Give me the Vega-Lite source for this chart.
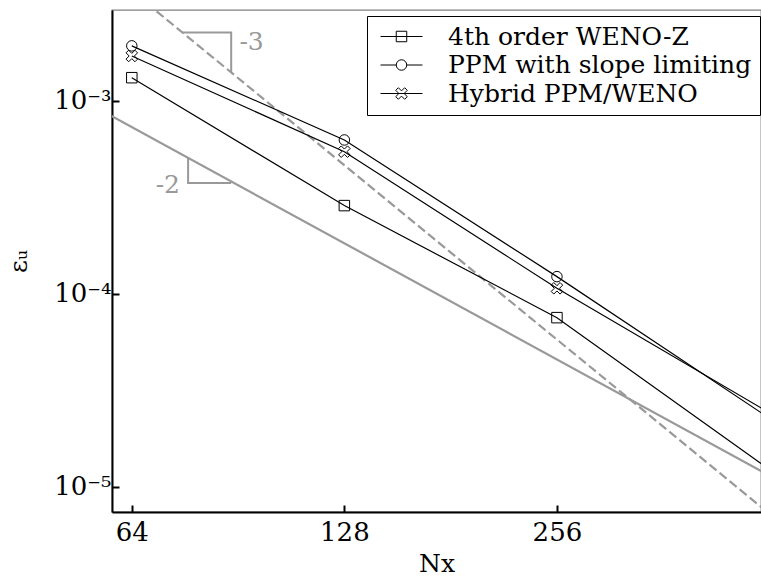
{
  "$schema": "https://vega.github.io/schema/vega-lite/v6.json",
  "width": 649,
  "height": 502,
  "autosize": "none",
  "padding": {"left": 112, "top": 10, "right": 0, "bottom": 64},
  "config": {
    "font": "DejaVu Serif",
    "view": {"stroke": "#808080", "strokeWidth": 1.3},
    "axis": {
      "grid": false,
      "domainColor": "black",
      "domainWidth": 2,
      "tickColor": "black",
      "tickWidth": 2,
      "tickSize": -7,
      "labelFont": "DejaVu Serif",
      "labelFontSize": 26,
      "labelColor": "black",
      "titleFont": "DejaVu Serif",
      "titleFontSize": 25,
      "titleFontWeight": "normal",
      "titleColor": "black"
    },
    "legend": {
      "labelFont": "DejaVu Serif",
      "labelFontSize": 25,
      "labelColor": "black",
      "labelLimit": 0,
      "fillColor": "white",
      "strokeColor": "black",
      "strokeWidth": 1,
      "padding": 8,
      "symbolOffset": 14,
      "labelOffset": 34,
      "rowPadding": 2.5,
      "symbolSize": 110,
      "symbolStrokeWidth": 1,
      "symbolStrokeColor": "black",
      "symbolFillColor": "transparent"
    }
  },
  "resolve": {"scale": {"shape": "independent"}},
  "datasets": {
    "series": [
      {"method": "4th order WENO-Z", "Nx": 64, "err": 0.00132},
      {"method": "4th order WENO-Z", "Nx": 128, "err": 0.000287},
      {"method": "4th order WENO-Z", "Nx": 256, "err": 0.0000754},
      {"method": "4th order WENO-Z", "Nx": 512, "err": 0.0000123},
      {"method": "PPM with slope limiting", "Nx": 64, "err": 0.00193},
      {"method": "PPM with slope limiting", "Nx": 128, "err": 0.000628},
      {"method": "PPM with slope limiting", "Nx": 256, "err": 0.000123},
      {"method": "PPM with slope limiting", "Nx": 512, "err": 0.0000227},
      {"method": "Hybrid PPM/WENO", "Nx": 64, "err": 0.00171},
      {"method": "Hybrid PPM/WENO", "Nx": 128, "err": 0.000546},
      {"method": "Hybrid PPM/WENO", "Nx": 256, "err": 0.000107},
      {"method": "Hybrid PPM/WENO", "Nx": 512, "err": 0.0000242}
    ],
    "refs": [
      {"ref": "slope2", "Nx": 50, "err": 0.0012},
      {"ref": "slope2", "Nx": 600, "err": 0.00000833},
      {"ref": "slope3", "Nx": 50, "err": 0.00779},
      {"ref": "slope3", "Nx": 600, "err": 0.00000451}
    ],
    "tris": [
      {"tri": "t3", "i": 1, "Nx": 75.5, "err": 0.00226},
      {"tri": "t3", "i": 2, "Nx": 88.5, "err": 0.00226},
      {"tri": "t3", "i": 3, "Nx": 88.5, "err": 0.00141},
      {"tri": "t2", "i": 1, "Nx": 76.9, "err": 0.000507},
      {"tri": "t2", "i": 2, "Nx": 76.9, "err": 0.000376},
      {"tri": "t2", "i": 3, "Nx": 88.5, "err": 0.000376}
    ],
    "labels": [
      {"txt": "-3", "Nx": 90.9, "err": 0.00202, "side": "left"},
      {"txt": "-2", "Nx": 74.9, "err": 0.000367, "side": "right"}
    ]
  },
  "encoding": {
    "x": {
      "field": "Nx", "type": "quantitative",
      "scale": {"type": "log", "base": 2, "domain": [60, 498], "nice": false, "zero": false},
      "axis": {"values": [64, 128, 256], "format": "d", "title": "Nx", "labelPadding": 14, "titlePadding": 6}
    },
    "y": {
      "field": "err", "type": "quantitative",
      "scale": {"type": "log", "domain": [0.00000742, 0.00296], "nice": false},
      "axis": {
        "values": [0.00001, 0.0001, 0.001],
        "labelExpr": "datum.value < 0.00005 ? '10⁻⁵' : datum.value < 0.0005 ? '10⁻⁴' : '10⁻³'",
        "title": "εᵤ",
        "labelPadding": 8,
        "titlePadding": 22
      }
    }
  },
  "layer": [
    {
      "data": {"name": "refs"},
      "transform": [{"filter": "datum.ref === 'slope2'"}],
      "mark": {"type": "line", "color": "#999999", "strokeWidth": 2.2, "clip": true},
      "encoding": {"detail": {"field": "ref"}}
    },
    {
      "data": {"name": "refs"},
      "transform": [{"filter": "datum.ref === 'slope3'"}],
      "mark": {"type": "line", "color": "#999999", "strokeWidth": 2.2, "strokeDash": [9, 4], "clip": true},
      "encoding": {"detail": {"field": "ref"}}
    },
    {
      "data": {"name": "tris"},
      "mark": {"type": "line", "color": "#999999", "strokeWidth": 2, "clip": true},
      "encoding": {"detail": {"field": "tri"}, "order": {"field": "i"}}
    },
    {
      "data": {"name": "labels"},
      "transform": [{"filter": "datum.side === 'left'"}],
      "mark": {"type": "text", "color": "#999999", "fontSize": 25, "align": "left", "baseline": "middle"},
      "encoding": {"text": {"field": "txt"}}
    },
    {
      "data": {"name": "labels"},
      "transform": [{"filter": "datum.side === 'right'"}],
      "mark": {"type": "text", "color": "#999999", "fontSize": 25, "align": "right", "baseline": "middle"},
      "encoding": {"text": {"field": "txt"}}
    },
    {
      "data": {"name": "series"},
      "mark": {"type": "line", "color": "black", "strokeWidth": 1.2, "clip": true},
      "encoding": {"detail": {"field": "method"}}
    },
    {
      "data": {"name": "series"},
      "mark": {"type": "point", "filled": false, "color": "black", "strokeWidth": 1, "size": 110, "opacity": 1, "clip": true},
      "encoding": {
        "shape": {
          "field": "method", "type": "nominal",
          "scale": {
            "domain": ["4th order WENO-Z", "PPM with slope limiting", "Hybrid PPM/WENO"],
            "range": ["M-1,-1H1V1H-1Z", "circle", "M0.6,-1.1L1.1,-0.6L0.5,0L1.1,0.6L0.6,1.1L0,0.5L-0.6,1.1L-1.1,0.6L-0.5,0L-1.1,-0.6L-0.6,-1.1L0,-0.5Z"]
          },
          "legend": null
        }
      }
    },
    {
      "data": {"name": "series"},
      "transform": [{"filter": "datum.Nx > 100000"}],
      "mark": {"type": "point", "filled": false, "color": "black", "strokeWidth": 1, "size": 110, "opacity": 1, "clip": true},
      "encoding": {
        "shape": {
          "field": "method", "type": "nominal",
          "scale": {
            "domain": ["4th order WENO-Z", "PPM with slope limiting", "Hybrid PPM/WENO"],
            "range": [
              "M-4,0H4M-1,-1H1V1H-1Z",
              "M-4,0H-1M1,0H4M1,0A1,1 0 1,1 -1,0A1,1 0 1,1 1,0Z",
              "M-4,0H4M0.6,-1.1L1.1,-0.6L0.5,0L1.1,0.6L0.6,1.1L0,0.5L-0.6,1.1L-1.1,0.6L-0.5,0L-1.1,-0.6L-0.6,-1.1L0,-0.5Z"
            ]
          },
          "legend": {
            "title": null,
            "orient": "none",
            "legendX": 255,
            "legendY": 6
          }
        }
      }
    }
  ]
}
